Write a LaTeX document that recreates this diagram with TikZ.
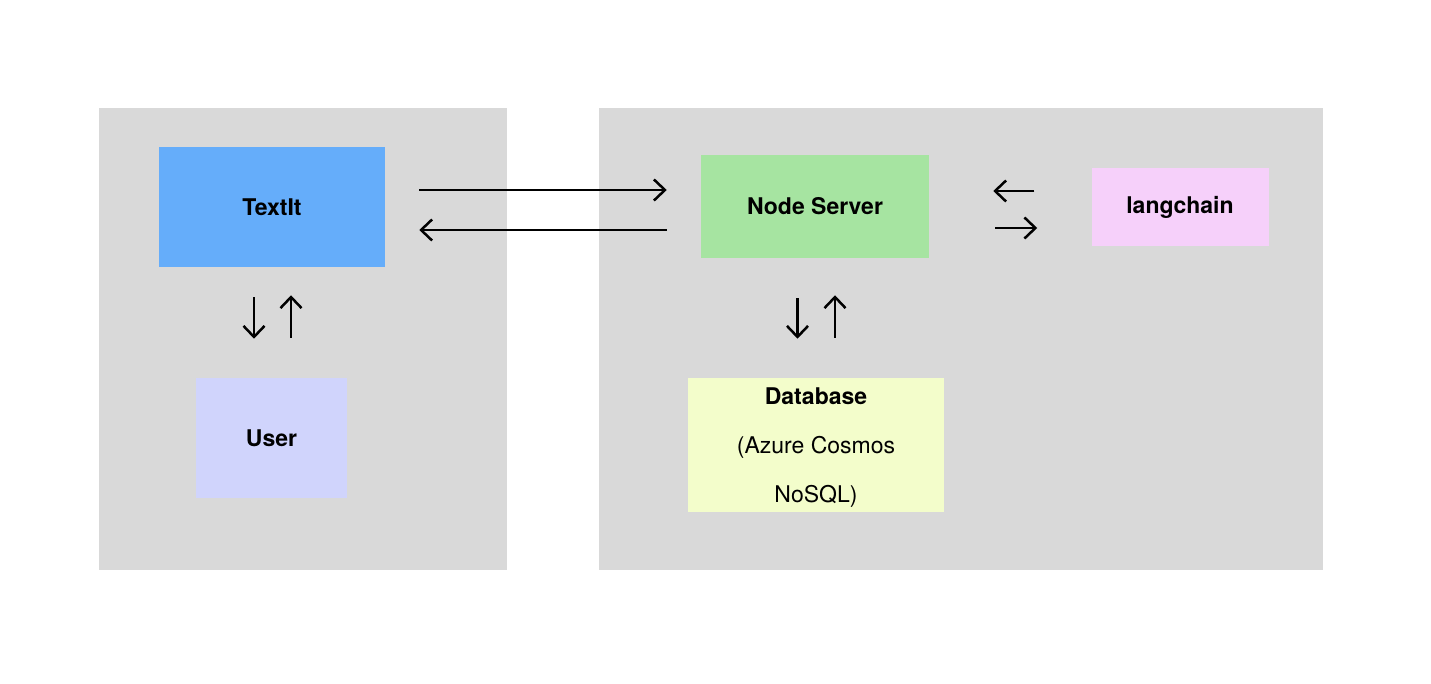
\documentclass[tikz,border=0pt]{standalone}
\usepackage{fontspec}
\setmainfont{TeX Gyre Heros}
\usetikzlibrary{arrows.meta}
\definecolor{panel}{HTML}{D9D9D9}
\definecolor{textitblue}{HTML}{65ADFA}
\definecolor{userblue}{HTML}{D0D4FC}
\definecolor{servergreen}{HTML}{A6E4A1}
\definecolor{langpink}{HTML}{F6D0FA}
\definecolor{dbyellow}{HTML}{F3FDCB}
\begin{document}
\begin{tikzpicture}[x=0.5pt, y=-0.5pt, line width=1.25pt, >={Straight Barb[length=5.5pt,width=10.5pt]},
    box/.style={inner sep=0pt, font=\fontsize{11.5}{14}\selectfont\bfseries}]
    \useasboundingbox (0,0) rectangle (1431,684);
    % grey panels
    \fill[panel] (99,108) rectangle (507,570);
    \fill[panel] (599,108) rectangle (1323,570);
    % boxes
    \node[box, fill=textitblue, minimum width=113pt, minimum height=60pt] (textit) at (272,207) {TextIt};
    \node[box, fill=userblue, minimum width=75.5pt, minimum height=60pt] (user) at (271.5,438) {User};
    \node[box, fill=servergreen, minimum width=114pt, minimum height=51.5pt] (server) at (815,206.5) {Node Server};
    \node[box, fill=langpink, minimum width=88.5pt, minimum height=39pt] (lang) at (1180,207) {langchain};
    \node[inner sep=0pt, fill=dbyellow, minimum width=128pt, minimum height=67pt,
        label={[align=center, yshift=-1.5pt, font=\fontsize{11.5}{24.5}\selectfont]center:{\textbf{Database}\\(Azure Cosmos\\NoSQL)}}] (db) at (816,445) {};
    % arrows
    \draw[->, shorten <=16.5pt, shorten >=16.5pt] (textit.east |- 0,190) -- (server.west |- 0,190);
    \draw[->, shorten <=16.5pt, shorten >=16.5pt] (server.west |- 0,230) -- (textit.east |- 0,230);
    \draw[->, shorten <=28pt, shorten >=31.5pt] (lang.west |- 0,191) -- (server.east |- 0,191);
    \draw[->, shorten <=32.5pt, shorten >=26.5pt] (server.east |- 0,228) -- (lang.west |- 0,228);
    \draw[->, shorten <=14.5pt, shorten >=19pt] (textit.south -| 254,0) -- (user.north -| 254,0);
    \draw[->, shorten <=19.5pt, shorten >=13.5pt] (user.north -| 291,0) -- (textit.south -| 291,0);
    \draw[->, shorten <=19.5pt, shorten >=19pt] (server.south -| 797.5,0) -- (db.north -| 797.5,0);
    \draw[->, shorten <=19.5pt, shorten >=18pt] (db.north -| 835,0) -- (server.south -| 835,0);
\end{tikzpicture}
\end{document}
